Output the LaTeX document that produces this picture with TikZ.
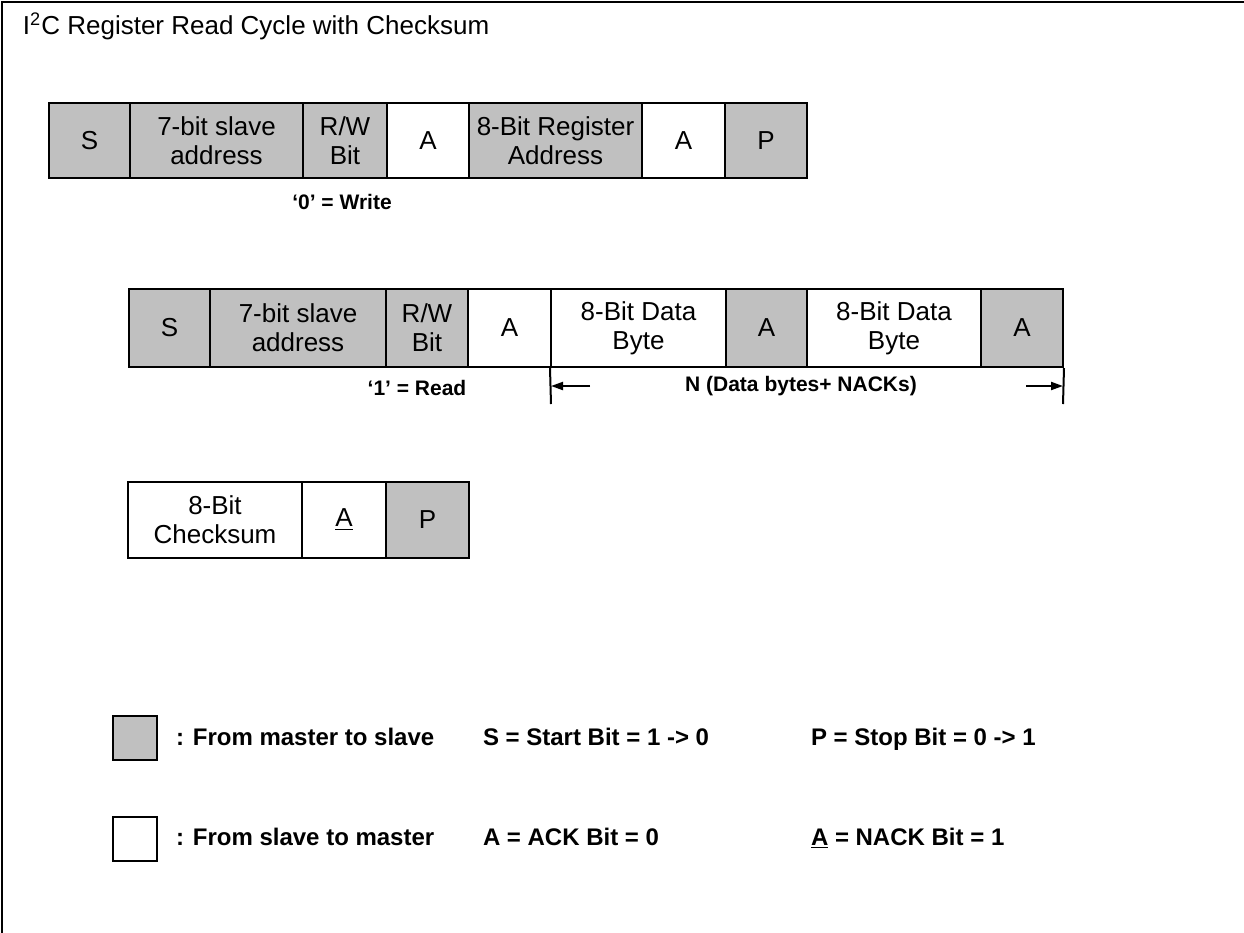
\documentclass[tikz,border=0pt]{standalone}
\usepackage{fontspec}
\setmainfont{Liberation Sans}
\usetikzlibrary{arrows.meta}
\definecolor{mastergray}{RGB}{192,192,192}

\begin{document}
\begin{tikzpicture}[x=.5pt,y=-.5pt,line width=1pt,
  field/.style={draw,line width=1pt,inner sep=0pt,align=center,font=\fontsize{13}{14.5}\selectfont},
  note/.style={inner sep=0pt,font=\fontsize{10.5}{12}\selectfont\bfseries},
  keytext/.style={inner sep=0pt,anchor=base west,font=\fontsize{12}{14}\selectfont\bfseries},
  keybox/.style={draw,line width=1pt,minimum width=22pt,minimum height=22pt}]
  \useasboundingbox (0,0) rectangle (1244,933);
  \draw[line width=1.25pt] (1244,2) -- (2,2) -- (2,933);
  \node[anchor=base west,inner sep=0pt,font=\fontsize{13}{15}\selectfont] (title) at (22,34) {I\textsuperscript{2}C Register Read Cycle with Checksum};
  % write of the register address
  \foreach \i/\a/\b/\c/\lab in {1/49/130/mastergray/S,2/130/303/mastergray/{7-bit slave\\address},
      3/303/387/mastergray/{R/W\\Bit},4/387/469/white/A,5/469/642/mastergray/{8-Bit Register\\Address},
      6/642/725/white/A,7/725/807/mastergray/P} {
    \node[field,fill=\c,minimum width={(\b-\a)*.5pt},minimum height=37.5pt] (w\i) at ({(\a+\b)/2},140.5) {\lab};
  }
  \node[note] (wnote) at (342,202) {‘0’ = Write};
  % read of the data bytes
  \foreach \i/\a/\b/\c/\lab in {1/129/210/mastergray/S,2/210/386/mastergray/{7-bit slave\\address},
      3/386/468/mastergray/{R/W\\Bit},4/468/551/white/A,5/551/726/white/{8-Bit Data\\Byte},
      6/726/807/mastergray/A,7/807/981/white/{8-Bit Data\\Byte},8/981/1063/mastergray/A} {
    \node[field,fill=\c,minimum width={(\b-\a)*.5pt},minimum height=39pt] (r\i) at ({(\a+\b)/2},328) {\lab};
  }
  \node[note] (rnote) at (417,388) {‘1’ = Read};
  \node[note] (nnote) at (801,386) {N (Data bytes+ NACKs)};
  \coordinate (nl) at (551,404);
  \coordinate (nr) at (1063,404);
  \coordinate (nlt) at (590,386);
  \coordinate (nrt) at (1026,386);
  \draw (r5.south west) -- (nl);
  \draw (r8.south east) -- (nr);
  \draw[-{Triangle[length=6pt,width=4pt]}] (nlt) -- (nl |- nlt);
  \draw[-{Triangle[length=6pt,width=4pt]}] (nrt) -- (nr |- nrt);
  % checksum
  \foreach \i/\a/\b/\c/\lab in {1/128/302/white/{8-Bit\\Checksum},2/302/386/white/\underline{A},3/386/469/mastergray/P} {
    \node[field,fill=\c,minimum width={(\b-\a)*.5pt},minimum height=38pt] (c\i) at ({(\a+\b)/2},520) {\lab};
  }
  % key
  \node[keybox,fill=mastergray] (keym) at (135,738) {};
  \node[keybox,fill=white] (keys) at (135,839) {};
  \node[keytext] (keymt) at (175,745) {: From master to slave};
  \node[keytext] (keyst) at (175,845) {: From slave to master};
  \node[keytext] (keyS) at (482,745) {S = Start Bit = 1 -> 0};
  \node[keytext] (keyP) at (810,745) {P = Stop Bit = 0 -> 1};
  \node[keytext] (keyA) at (482,845) {A = ACK Bit = 0};
  \node[keytext] (keyN) at (810,845) {\underline{A} = NACK Bit = 1};
\end{tikzpicture}
\end{document}
